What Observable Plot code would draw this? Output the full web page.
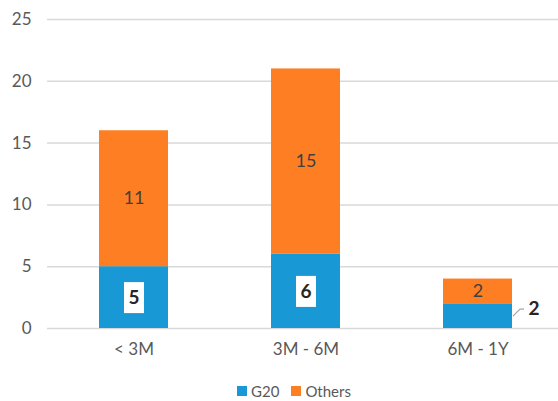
<!DOCTYPE html>
<html>
<head>
<meta charset="utf-8">
<script src="https://cdn.jsdelivr.net/npm/d3@7"></script>
<script src="https://cdn.jsdelivr.net/npm/@observablehq/plot@0.6"></script>
<style>
  body { margin: 0; background: #fff; font-family: "Lato", "Open Sans", sans-serif; }
  #chart { width: 558px; }
  .legend { display: flex; justify-content: center; gap: 12px; padding-left: 30px; margin-top: 12px;
            font-size: 15px; color: #595959; }
  .legend span { display: inline-flex; align-items: center; gap: 4px; }
  .legend i { display: inline-block; width: 10px; height: 10px; }
</style>
</head>
<body>
<div id="chart"></div>
<script>
// Maturity buckets and counts per group
const categories = ["< 3M", "3M - 6M", "6M - 1Y"];
const g20 = [5, 6, 2];
const others = [11, 15, 2];
const series = ["G20", "Others"];
const colors = ["#1899D5", "#FE7F23"];
const yTicks = [0, 5, 10, 15, 20, 25];
// Buckets whose G20 segment is too short for an inside label
const calloutBuckets = ["6M - 1Y"];

const rows = categories.flatMap((c, i) => [
  {bucket: c, group: "G20", value: g20[i]},
  {bucket: c, group: "Others", value: others[i]}
]);
// G20 sits at the bottom of each stack, so its rows stack the same on their own
const g20Rows = rows.filter(d => d.group === "G20");
const inside = g20Rows.filter(d => !calloutBuckets.includes(d.bucket));
const outside = g20Rows.filter(d => calloutBuckets.includes(d.bucket));

// White label box centred on a point
const box = {draw(ctx) { ctx.rect(-10, -15.5, 20, 31); }};
// Short leader from the bar's right edge to the outside label
const leader = {draw(ctx) { ctx.moveTo(0, 0); ctx.lineTo(7, -7); ctx.lineTo(11, -7); }};

const chart = Plot.plot({
  width: 558,
  height: 370,
  marginTop: 19,
  marginLeft: 47,
  marginRight: 0,
  marginBottom: 42,
  style: {fontFamily: "Lato, 'Open Sans', sans-serif", fontSize: "17px", color: "#595959", overflow: "visible"},
  x: {domain: categories, range: [47, 563], paddingInner: 0.6, paddingOuter: 0.3, label: null},
  y: {domain: [0, 25], label: null},
  color: {domain: series, range: colors},
  marks: [
    Plot.ruleY(yTicks, {stroke: "#d9d9d9", strokeWidth: 1.5}),
    Plot.axisY({ticks: yTicks, tickSize: 0, tickPadding: 16, label: null, fill: "#595959"}),
    Plot.axisX({tickSize: 0, tickPadding: 14, label: null, fill: "#595959"}),
    Plot.barY(rows, Plot.stackY({x: "bucket", y: "value", fill: "group", order: series})),
    // Others values centred in their segments (G20 rows stay in the stack but draw no text)
    Plot.text(rows, Plot.stackY({
      x: "bucket", y: "value", z: "group", order: series,
      text: d => d.group === "Others" ? String(d.value) : null,
      fill: "#404040", fontSize: 18
    })),
    Plot.dot(inside, Plot.stackY({x: "bucket", y: "value", symbol: box, fill: "white", stroke: "none", r: 1})),
    Plot.text(inside, Plot.stackY({x: "bucket", y: "value", text: "value", fill: "#262626", fontWeight: "bold", fontSize: 19})),
    Plot.dot(outside, Plot.stackY({x: "bucket", y: "value", symbol: leader, fill: "none", stroke: "#a6a6a6", strokeWidth: 1.2, dx: 35, r: 1})),
    Plot.text(outside, Plot.stackY({x: "bucket", y: "value", text: "value", fill: "#262626", fontWeight: "bold", fontSize: 19, dx: 56, dy: -7}))
  ]
});
document.getElementById("chart").append(chart);

const legend = document.createElement("div");
legend.className = "legend";
series.forEach((s, i) => {
  const item = document.createElement("span");
  item.innerHTML = `<i style="background:${colors[i]}"></i>${s}`;
  legend.append(item);
});
document.getElementById("chart").append(legend);
</script>
</body>
</html>
